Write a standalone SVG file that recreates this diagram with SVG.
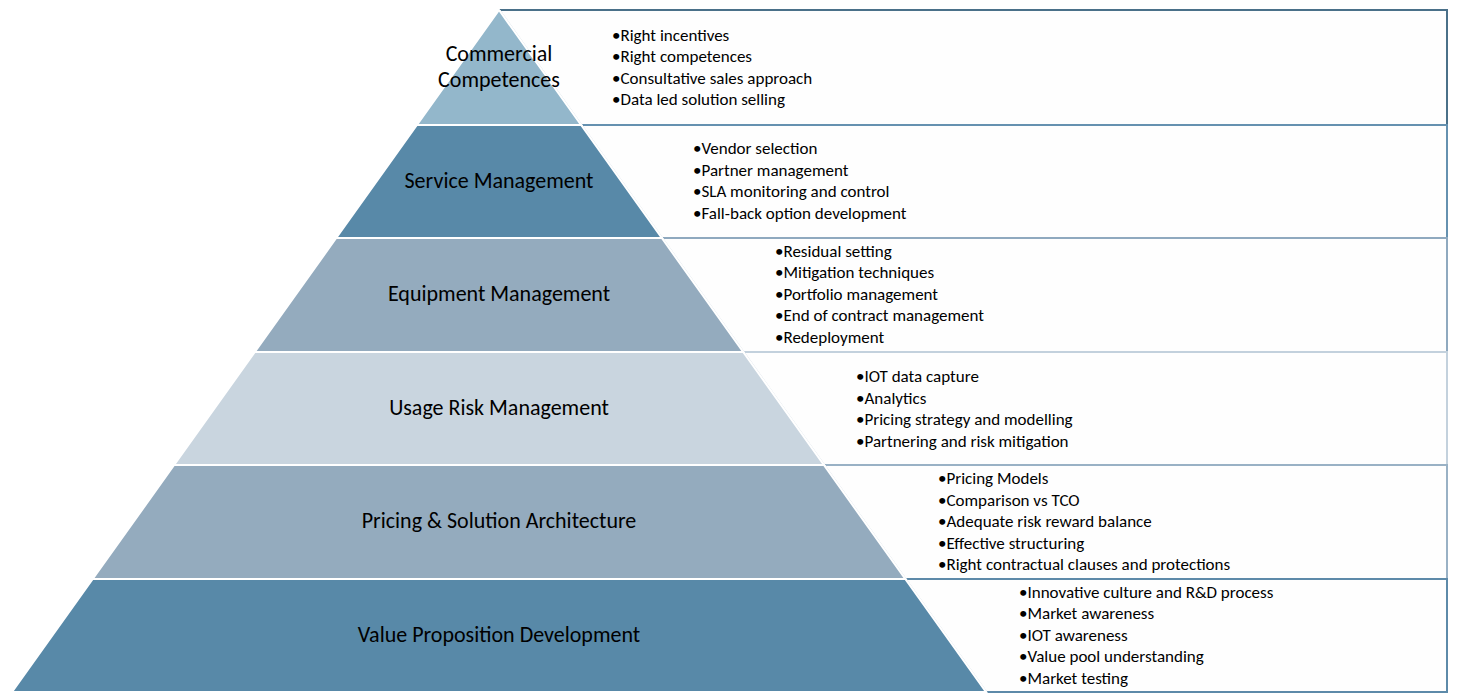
<svg xmlns="http://www.w3.org/2000/svg" width="1458" height="700" viewBox="0 0 1458 700">
<style>
.lbl{font-family:Carlito,Lato,"Liberation Sans",sans-serif;font-size:22px;fill:#000;text-anchor:middle}
.bul{font-family:Carlito,Lato,"Liberation Sans",sans-serif;font-size:17px;fill:#000}
.box{fill:#fefefe;stroke-width:2}
.diag{stroke:#dde4ea;stroke-width:1;fill:none}
.band{stroke:#fff;stroke-width:2;stroke-linejoin:miter}
</style>
<rect width="1458" height="700" fill="#fff"/>
<g id="boxes">
<g id="box1"><path class="box" d="M499 10 H1447 V125 H581.1" stroke="#4a7089"/></g>
<g id="box2"><path class="box" d="M581.1 125 H1447 V238 H661.8" stroke="#6591b0"/></g>
<g id="box3"><path class="box" d="M661.8 238 H1447 V352 H743.2" stroke="#8fa9bf"/></g>
<g id="box4"><path class="box" d="M743.2 352 H1447 V465 H823.9" stroke="#c3d1dd"/></g>
<g id="box5"><path class="box" d="M823.9 465 H1447 V579 H905.3" stroke="#99b1c5"/></g>
<g id="box6"><path class="box" d="M905.3 579 H1447 V692 H986" stroke="#5d8aa9"/></g>
</g>
<g id="connectors">
<line class="diag" x1="500" y1="10" x2="987" y2="692"/>
</g>
<g id="pyramid">
<g id="band1"><polygon class="band" points="499,10 581.1,125 416.9,125" fill="#93b7cb"/>
<text class="lbl" x="499" y="61">Commercial</text><text class="lbl" x="499" y="87">Competences</text></g>
<g id="band2"><polygon class="band" points="416.9,125 581.1,125 661.8,238 336.2,238" fill="#5889a8"/>
<text class="lbl" x="499" y="188">Service Management</text></g>
<g id="band3"><polygon class="band" points="336.2,238 661.8,238 743.2,352 254.8,352" fill="#94abbe"/>
<text class="lbl" x="499" y="301">Equipment Management</text></g>
<g id="band4"><polygon class="band" points="254.8,352 743.2,352 823.9,465 174.1,465" fill="#c9d5df"/>
<text class="lbl" x="499" y="415">Usage Risk Management</text></g>
<g id="band5"><polygon class="band" points="174.1,465 823.9,465 905.3,579 92.7,579" fill="#94abbe"/>
<text class="lbl" x="499" y="528">Pricing &amp; Solution Architecture</text></g>
<g id="band6"><polygon class="band" points="92.7,579 905.3,579 986,692 12,692" fill="#5889a8"/>
<text class="lbl" x="499" y="642">Value Proposition Development</text></g>
</g>
<g id="bullets">
<g id="list1">
<text class="bul" x="612" y="40.5">•Right incentives</text>
<text class="bul" x="612" y="62">•Right competences</text>
<text class="bul" x="612" y="83.5">•Consultative sales approach</text>
<text class="bul" x="612" y="105">•Data led solution selling</text>
</g>
<g id="list2">
<text class="bul" x="693" y="154">•Vendor selection</text>
<text class="bul" x="693" y="175.5">•Partner management</text>
<text class="bul" x="693" y="197">•SLA monitoring and control</text>
<text class="bul" x="693" y="218.5">•Fall-back option development</text>
</g>
<g id="list3">
<text class="bul" x="775" y="256.5">•Residual setting</text>
<text class="bul" x="775" y="278">•Mitigation techniques</text>
<text class="bul" x="775" y="299.5">•Portfolio management</text>
<text class="bul" x="775" y="321">•End of contract management</text>
<text class="bul" x="775" y="342.5">•Redeployment</text>
</g>
<g id="list4">
<text class="bul" x="856" y="382">•IOT data capture</text>
<text class="bul" x="856" y="403.5">•Analytics</text>
<text class="bul" x="856" y="425">•Pricing strategy and modelling</text>
<text class="bul" x="856" y="446.5">•Partnering and risk mitigation</text>
</g>
<g id="list5">
<text class="bul" x="938" y="484">•Pricing Models</text>
<text class="bul" x="938" y="505.5">•Comparison vs TCO</text>
<text class="bul" x="938" y="527">•Adequate risk reward balance</text>
<text class="bul" x="938" y="548.5">•Effective structuring</text>
<text class="bul" x="938" y="570">•Right contractual clauses and protections</text>
</g>
<g id="list6">
<text class="bul" x="1019" y="597.5">•Innovative culture and R&amp;D process</text>
<text class="bul" x="1019" y="619">•Market awareness</text>
<text class="bul" x="1019" y="640.5">•IOT awareness</text>
<text class="bul" x="1019" y="662">•Value pool understanding</text>
<text class="bul" x="1019" y="683.5">•Market testing</text>
</g>
</g>
</svg>
